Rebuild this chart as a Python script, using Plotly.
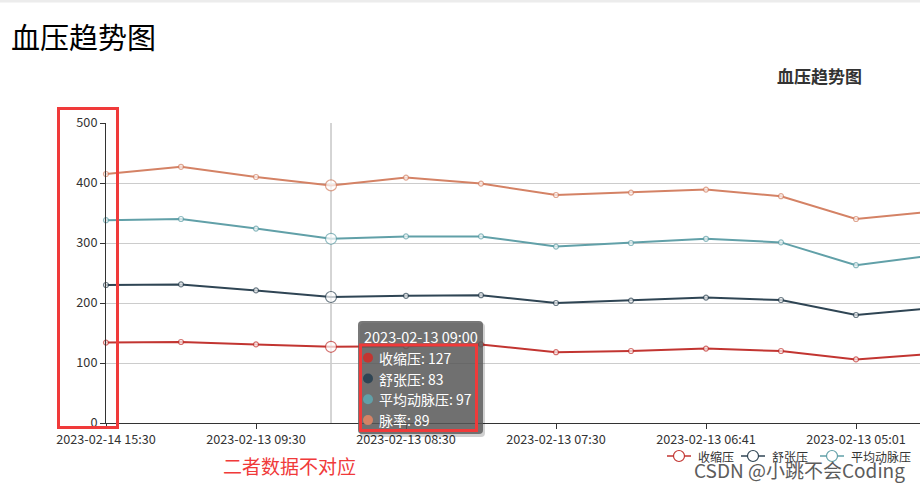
import plotly.graph_objects as go
import numpy as np

# ---------------- data ----------------
categories = [
    "2023-02-14 15:30", "2023-02-13 10:00", "2023-02-13 09:30", "2023-02-13 09:00",
    "2023-02-13 08:30", "2023-02-13 08:00", "2023-02-13 07:30", "2023-02-13 07:00",
    "2023-02-13 06:41", "2023-02-13 05:30", "2023-02-13 05:01", "2023-02-13 04:30",
]
series_names = ["收缩压", "舒张压", "平均动脉压", "脉率"]
systolic = [134, 135, 131, 127, 128, 131, 118, 120, 124, 120, 106, 115]
diastolic = [96, 96, 90, 83, 84, 82, 82, 84, 85, 85, 74, 76]
mean_arterial = [108, 109, 103, 97, 99, 98, 94, 96, 98, 96, 83, 88]
pulse = [77, 87, 86, 89, 98, 88, 86, 84, 82, 77, 77, 73]
y_ticks = [0, 100, 200, 300, 400, 500]
hover_index = 3
legend_shown = series_names[:3]
page_title = "血压趋势图"
chart_title = "血压趋势图"
note_text = "二者数据不对应"
watermark = "CSDN @小跳不会Coding"

colors = ["#c23531", "#2f4554", "#61a0a8", "#d48265"]
FONT = "Noto Sans CJK SC, Noto Sans, sans-serif"

series_values = [systolic, diastolic, mean_arterial, pulse]
stacked = np.cumsum(np.array(series_values), axis=0)

# ---------------- geometry helpers (pixel -> paper) ----------------
L, R, T, B = 106, 920, 123, 423
W, H = 920, 489


def px(x):
    return (x - L) / (R - L)


def py(y):
    return (B - y) / (B - T)


fig = go.Figure()

for i, name in enumerate(series_names):
    sizes = [5] * len(categories)
    sizes[hover_index] = 11
    fig.add_trace(go.Scatter(
        x=categories, y=stacked[i], name=name, mode="lines+markers",
        line=dict(color=colors[i], width=2),
        marker=dict(size=sizes, color="white", line=dict(color=colors[i], width=1.2)),
        cliponaxis=False, hoverinfo="skip", showlegend=False,
    ))

shapes = []
# top page stripe
shapes.append(dict(type="rect", xref="paper", yref="paper", x0=px(0), x1=px(W), y0=py(2.5), y1=py(0),
                   fillcolor="#ececec", line=dict(width=0), layer="above"))
# axis pointer
shapes.append(dict(type="line", xref="x", yref="y", x0=categories[hover_index], x1=categories[hover_index],
                   y0=y_ticks[0], y1=y_ticks[-1], line=dict(color="#aaaaaa", width=1), layer="below"))


def rounded_rect(x0, y0, x1, y1, r):
    # pixel coordinates, y0 top, y1 bottom
    rx = r / (R - L)
    ry = r / (B - T)
    X0, X1 = px(x0), px(x1)
    Yt, Yb = py(y0), py(y1)
    return (f"M {X0+rx},{Yt} L {X1-rx},{Yt} Q {X1},{Yt} {X1},{Yt-ry} "
            f"L {X1},{Yb+ry} Q {X1},{Yb} {X1-rx},{Yb} L {X0+rx},{Yb} "
            f"Q {X0},{Yb} {X0},{Yb+ry} L {X0},{Yt-ry} Q {X0},{Yt} {X0+rx},{Yt} Z")


# tooltip shadow + box
shapes.append(dict(type="path", xref="paper", yref="paper", path=rounded_rect(360, 323, 485, 437, 4),
                   fillcolor="rgba(0,0,0,0.18)", line=dict(width=0), layer="above"))
shapes.append(dict(type="path", xref="paper", yref="paper", path=rounded_rect(358, 321, 483, 434, 4),
                   fillcolor="rgba(90,90,90,0.82)", line=dict(width=0), layer="above"))

annotations = []
# tooltip header
annotations.append(dict(xref="paper", yref="paper", x=px(362), y=py(336), xanchor="left", yanchor="middle",
                        text=categories[hover_index], showarrow=False,
                        font=dict(family=FONT, size=14.5, color="white")))
for i, name in enumerate(series_names):
    cy = 357.7 + i * 20.8
    shapes.append(dict(type="circle", xref="paper", yref="paper", x0=px(363), x1=px(373),
                       y0=py(cy + 5), y1=py(cy - 5), fillcolor=colors[i], line=dict(width=0), layer="above"))
    annotations.append(dict(xref="paper", yref="paper", x=px(377), y=py(cy), xanchor="left", yanchor="middle",
                            text=f"{name}: {series_values[i][hover_index]}", showarrow=False,
                            font=dict(family=FONT, size=14, color="white")))

# red annotation boxes
red = "#f03a3a"
shapes.append(dict(type="rect", xref="paper", yref="paper", x0=px(58.5), x1=px(117.5), y0=py(427.5), y1=py(108.5),
                   line=dict(color=red, width=3), fillcolor="rgba(0,0,0,0)", layer="above"))
shapes.append(dict(type="rect", xref="paper", yref="paper", x0=px(360.5), x1=px(476.5), y0=py(430.5), y1=py(345),
                   line=dict(color=red, width=3), fillcolor="rgba(0,0,0,0)", layer="above"))

# manual legend
legend_x = [667, 741, 820]
for i, name in enumerate(legend_shown):
    x0 = legend_x[i]
    cy = 456
    shapes.append(dict(type="line", xref="paper", yref="paper", x0=px(x0), x1=px(x0 + 24), y0=py(cy), y1=py(cy),
                       line=dict(color=colors[i], width=1.5), layer="above"))
    shapes.append(dict(type="circle", xref="paper", yref="paper", x0=px(x0 + 12 - 5.5), x1=px(x0 + 12 + 5.5),
                       y0=py(cy + 5.5), y1=py(cy - 5.5), fillcolor="white",
                       line=dict(color=colors[i], width=1.2), layer="above"))
    annotations.append(dict(xref="paper", yref="paper", x=px(x0 + 29), y=py(cy), xanchor="left", yanchor="middle",
                            text=name, showarrow=False, font=dict(family=FONT, size=12, color="#333")))

# titles and notes
annotations.append(dict(xref="paper", yref="paper", x=px(9), y=py(36), xanchor="left", yanchor="middle",
                        text=page_title, showarrow=False, font=dict(family=FONT, size=29, color="#000")))
annotations.append(dict(xref="paper", yref="paper", x=px(775), y=py(76), xanchor="left", yanchor="middle",
                        text=f"<b>{chart_title}</b>", showarrow=False, font=dict(family=FONT, size=17, color="#333")))
annotations.append(dict(xref="paper", yref="paper", x=px(221), y=py(465), xanchor="left", yanchor="middle",
                        text=note_text, showarrow=False, font=dict(family=FONT, size=19, color=red)))
annotations.append(dict(xref="paper", yref="paper", x=px(692), y=py(469), xanchor="left", yanchor="middle",
                        text=watermark, showarrow=False, font=dict(family=FONT, size=19, color="#5c5c5c")))

fig.update_layout(
    width=W, height=H,
    margin=dict(l=L, r=W - R, t=T, b=H - B, pad=0),
    paper_bgcolor="white", plot_bgcolor="white",
    showlegend=False,
    font=dict(family=FONT, size=12, color="#333"),
    xaxis=dict(
        type="category", range=[0, (R - L) / 75.0],
        showgrid=False, zeroline=False, showline=True, linecolor="#333", linewidth=1,
        ticks="outside", ticklen=5, tickcolor="#333",
        tickmode="array", tickvals=categories[::2], ticktext=categories[::2],
        tickfont=dict(family=FONT, size=12.7, color="#333"),
    ),
    yaxis=dict(
        range=[y_ticks[0], y_ticks[-1]], tickmode="array", tickvals=y_ticks,
        showgrid=True, gridcolor="#cccccc", gridwidth=1, zeroline=False,
        showline=True, linecolor="#333", linewidth=1,
        ticks="outside", ticklen=5, tickcolor="#333",
        tickfont=dict(family=FONT, size=12.7, color="#333"),
    ),
    shapes=shapes,
    annotations=annotations,
    hovermode=False,
)

fig.write_html("out.html")
